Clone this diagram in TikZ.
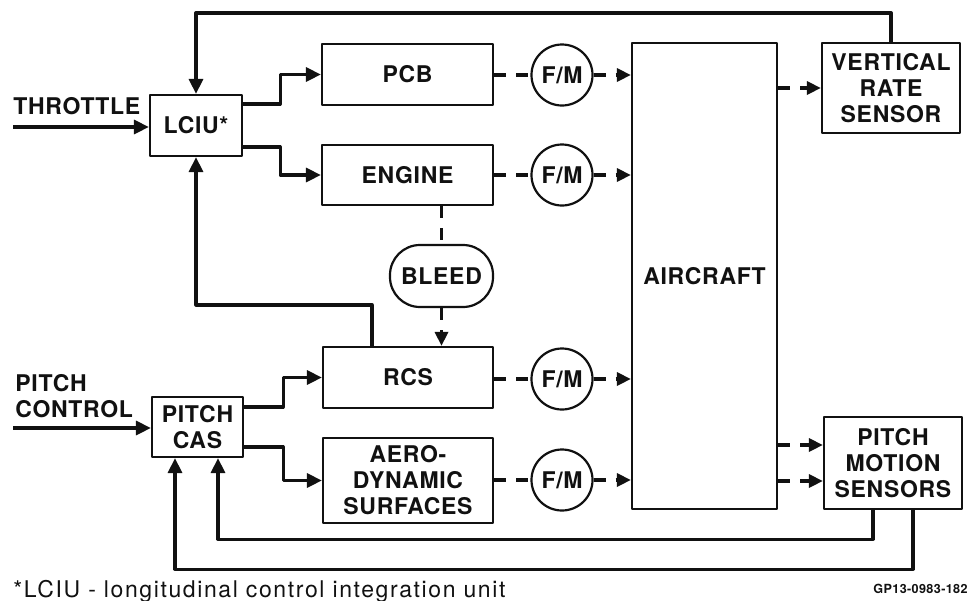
\documentclass[tikz,border=0pt]{standalone}
\usepackage{fontspec}
\setmainfont{TeX Gyre Heros}
\newfontfamily\lblfont{TeX Gyre Heros}[LetterSpace=3]
\newfontfamily\notefont{TeX Gyre Heros}[LetterSpace=7]
\usepackage{xcolor}
\usepackage{tikz}
\usetikzlibrary{arrows.meta,calc}
\definecolor{ink}{HTML}{111111}
\newcommand\lblsize{\fontsize{11.5}{13}\selectfont}
\tikzset{
    every picture/.style={line join=round},
    blockbox/.style={draw=ink,fill=white,line width=1.1pt,inner sep=1pt,
      font=\lblfont\lblsize\bfseries,align=center,text=ink},
    fmnode/.style={draw=ink,circle,line width=1.1pt,minimum size=30.5pt,
      inner sep=0pt,font=\lblfont\lblsize\bfseries,text=ink},
    bleednode/.style={draw=ink,rounded corners=15pt,line width=1.1pt,
      minimum width=51.5pt,minimum height=31pt,inner sep=0pt,
      font=\lblfont\lblsize\bfseries,text=ink},
    sigarrow/.style={-{Triangle[length=7.5pt,width=7pt]},draw=ink,
      line width=1.6pt},
    dashlink/.style={draw=ink,line width=1.6pt,dash pattern=on 6pt off 5pt},
    dasharrow/.style={dashlink,-{Triangle[length=7pt,width=6.5pt]}},
    inlabel/.style={font=\lblfont\lblsize\bfseries,text=ink,align=left,inner sep=0pt}
}

\begin{document}
\begin{tikzpicture}[x=0.5pt,y=-0.5pt]
  \useasboundingbox (0,0) rectangle (969,600);
  % control units
  \node[blockbox,minimum width=46pt,minimum height=30.5pt] (lciu) at (196,125.5) {LCIU*};
  \node[blockbox,minimum width=45.5pt,minimum height=30pt] (pcas) at (197.5,427) {PITCH\\CAS};
  % effectors
  \node[blockbox,minimum width=85.5pt,minimum height=30.5pt] (pcb) at (407.5,74.5) {PCB};
  \node[blockbox,minimum width=85.5pt,minimum height=30pt] (engine) at (407.5,175) {ENGINE};
  \node[bleednode] (bleed) at (441.5,276) {BLEED};
  \node[blockbox,minimum width=85pt,minimum height=30.5pt] (rcs) at (408,377.5) {RCS};
  \node[blockbox,minimum width=85pt,minimum height=42.5pt] (aero) at (408,480.5) {AERO-\\DYNAMIC\\SURFACES};
  % force / moment
  \foreach \i/\y in {1/75,2/175,3/379,4/480}
    \node[fmnode] (fm\i) at (562,\y) {F/M};
  \node[blockbox,minimum width=72.5pt,minimum height=233pt] (aircraft) at (704.5,276) {AIRCRAFT};
  % sensors
  \node[blockbox,minimum width=69pt,minimum height=45pt] (vrs) at (891,88) {VERTICAL\\RATE\\SENSOR};
  \node[blockbox,minimum width=69pt,minimum height=46pt] (pms) at (893,463) {PITCH\\MOTION\\SENSORS};

  % pilot inputs
  \node[inlabel,anchor=north west] (thrlabel) at (13,97) {THROTTLE};
  \coordinate (thrin) at (13,127);
  \draw[sigarrow] (thrin) -- (thrin -| lciu.west);
  \node[inlabel,anchor=north west] (pclabel) at (15,374) {PITCH\\CONTROL};
  \coordinate (pcin) at (13,428);
  \draw[sigarrow] (pcin) -- (pcin -| pcas.west);

  % commands
  \draw[sigarrow] ([yshift=10.75pt]lciu.east) -- ++(37,0) |- (pcb.west);
  \draw[sigarrow] ([yshift=-10.75pt]lciu.east) -- ++(37,0) |- (engine.west);
  \draw[sigarrow] ([yshift=10pt]pcas.east) -- ++(39,0) |- (rcs.west);
  \draw[sigarrow] ([yshift=-10pt]pcas.east) -- ++(39,0) |- (aero.west);

  % bleed air
  \draw[dashlink] (bleed.north |- engine.south) -- (bleed.north);
  \draw[dasharrow] (bleed.south) -- (bleed.south |- rcs.north);

  % forces and moments on the aircraft
  \foreach \src/\i in {pcb/1,engine/2,rcs/3,aero/4}{
    \draw[dashlink] (\src.east |- fm\i) -- (fm\i.west);
    \draw[dasharrow] (fm\i.east) -- (fm\i.east -| aircraft.west);
  }

  % motion to sensors
  \draw[dasharrow] (vrs.west -| aircraft.east) -- (vrs.west);
  \coordinate (pmsa) at ([yshift=9pt]pms.west);
  \coordinate (pmsb) at ([yshift=-9pt]pms.west);
  \draw[dasharrow] (pmsa -| aircraft.east) -- (pmsa);
  \draw[dasharrow] (pmsb -| aircraft.east) -- (pmsb);

  % feedback
  \draw[sigarrow] (vrs.north) -- ++(0,-29) -| (lciu.north);
  \draw[sigarrow] ([xshift=-18pt]rcs.north) -- ++(0,-41) -| (lciu.south);
  \draw[sigarrow] ([xshift=-10pt]pms.south) -- ++(0,29) -| ([xshift=10.25pt]pcas.south);
  \draw[sigarrow] ([xshift=10pt]pms.south) -- ++(0,59) -| ([xshift=-11.25pt]pcas.south);

  % footnote
  \node[anchor=base west,inner sep=0pt,text=ink,font=\notefont\lblsize] (note) at (13,597) {*LCIU - longitudinal control integration unit};
  \node[anchor=base east,inner sep=0pt,text=ink,font=\lblfont\fontsize{6.3}{7}\selectfont\bfseries] (figid) at (968,593) {GP13-0983-182};
\end{tikzpicture}
\end{document}
